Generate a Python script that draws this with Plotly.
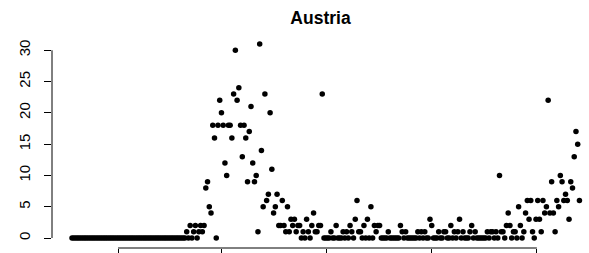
import plotly.graph_objects as go

country = "Austria"

# daily values (one per day, in order)
values = [
    0,0,0,0,0,0,0,0,0,0,0,0,0,0,0,0,0,0,0,0,0,0,
    0,0,0,0,0,0,0,0,0,0,0,0,0,0,0,0,0,0,0,0,0,0,
    0,0,0,0,0,0,0,0,0,0,0,0,0,0,0,0,0,0,0,0,0,0,
    1,0,2,0,1,2,0,1,2,1,
    2,8,9,5,4,18,16,0,18,22,
    20,18,12,10,18,18,16,23,30,22,
    24,18,13,18,16,9,17,21,12,9,
    10,1,31,14,5,23,6,7,20,11,
    4,5,7,2,2,6,2,1,5,1,
    3,2,3,1,2,2,0,1,0,3,
    1,0,2,4,1,1,2,2,23,0,
    0,0,0,1,0,0,2,0,0,0,
    1,0,1,0,2,1,0,3,6,1,
    1,0,2,0,3,0,5,0,2,1,
    2,2,0,0,0,0,1,0,0,0,
    0,0,0,2,1,0,1,0,0,0,
    0,0,0,1,0,1,0,1,0,0,
    3,2,0,0,0,1,0,0,1,1,
    0,0,2,0,1,0,1,3,0,1,
    0,0,0,1,2,0,1,0,0,0,
    0,0,0,1,0,1,1,0,1,0,
    10,1,1,0,2,4,2,0,1,1,
    0,5,2,0,1,4,
    6,3,6,1,0,3,6,3,1,6,
    4,5,22,4,9,4,1,6,5,10,
    9,6,7,6,3,9,8,13,17,15,
    6,
]
days = list(range(len(values)))

y_ticks = [0, 5, 10, 15, 20, 25, 30]
y_tick_labels = ["0", "5", "10", "15", "20", "25", "30"]
x_ticks = [26.5, 86.3, 146.7, 207.1, 267.5]

FONT = "Liberation Sans, Arial, Helvetica, sans-serif"

fig = go.Figure()
fig.add_trace(go.Scatter(
    x=days, y=values, mode="markers",
    marker=dict(color="black", size=5.5, line=dict(width=0)),
    hoverinfo="x+y", showlegend=False, cliponaxis=False,
))

fig.update_layout(
    width=589, height=253,
    margin=dict(l=52, r=0, t=37, b=5, autoexpand=False),
    paper_bgcolor="white", plot_bgcolor="white",
    title=dict(text="<b>" + country + "</b>", x=0.5, xref="paper", xanchor="center",
               y=1 - 18 / 253, yref="container", yanchor="middle",
               font=dict(family=FONT, size=17.5, color="black")),
    font=dict(family=FONT, color="black"),
    xaxis=dict(range=[-11.51, 297.5], showgrid=False, zeroline=False, showline=False,
               tickmode="array", tickvals=x_ticks, ticks="outside", ticklen=7,
               tickwidth=1, tickcolor="black", showticklabels=False, fixedrange=True,
               automargin=False),
    yaxis=dict(range=[-1.598, 32.12], showgrid=False, zeroline=False, showline=False,
               tickmode="array", tickvals=y_ticks, ticktext=y_tick_labels,
               ticks="outside", ticklen=7, tickwidth=1, tickcolor="black",
               tickangle=-90, tickfont=dict(family=FONT, size=15, color="black"),
               ticklabelstandoff=8, automargin=False, fixedrange=True),
    shapes=[
        dict(type="line", xref="x", yref="paper", x0=x_ticks[0], x1=x_ticks[-1], y0=0, y1=0,
             line=dict(color="black", width=1)),
        dict(type="line", xref="paper", yref="y", x0=0, x1=0, y0=y_ticks[0], y1=y_ticks[-1],
             line=dict(color="black", width=1)),
    ],
)

fig.write_html(
    "out.html",
    config={"displayModeBar": False},
    post_script="document.body.style.margin='0';document.body.style.overflow='hidden';",
)
